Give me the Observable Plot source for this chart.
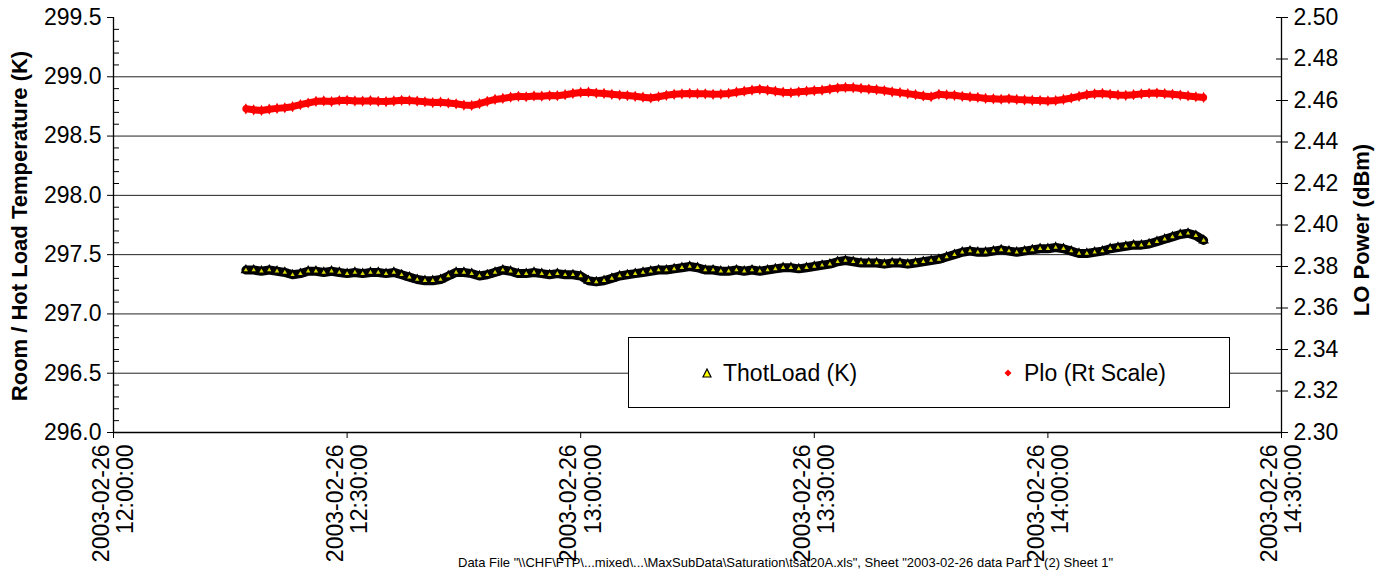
<!DOCTYPE html>
<html><head><meta charset="utf-8">
<script src="https://cdn.jsdelivr.net/npm/d3@7"></script>
<script src="https://cdn.jsdelivr.net/npm/@observablehq/plot@0.6"></script>
<style>
html,body{margin:0;padding:0;background:#fff;overflow:hidden;}
#wrap{position:relative;width:1388px;height:571px;font-family:"Liberation Sans",Arial,sans-serif;color:#000;}
.ttl{position:absolute;font-weight:bold;font-size:22px;white-space:nowrap;transform:translate(-50%,-50%) rotate(-90deg);}
#legend{position:absolute;left:628px;top:337px;width:602px;height:71px;border:1px solid #000;background:#fff;box-sizing:border-box;font-size:23px;}
.li{position:absolute;top:22px;white-space:nowrap;line-height:26px;}
.li svg{position:absolute;top:8px;}
#caption{position:absolute;left:458px;top:556px;font-size:13px;line-height:14px;white-space:nowrap;}
</style></head>
<body><div id="wrap"></div>
<script>
// ---- data (one sample per minute, starting 12:17) ----
const startTime = "2003-02-26T12:17:00Z";
const thotLoad = [297.37,297.37,297.36,297.37,297.36,297.35,297.33,297.34,297.36,297.36,
297.35,297.36,297.35,297.34,297.35,297.34,297.35,297.35,297.34,297.35,
297.33,297.31,297.29,297.28,297.28,297.29,297.32,297.35,297.35,297.34,
297.32,297.33,297.35,297.37,297.36,297.34,297.34,297.35,297.34,297.33,
297.34,297.33,297.33,297.32,297.28,297.27,297.28,297.30,297.32,297.33,
297.34,297.35,297.36,297.37,297.37,297.38,297.39,297.40,297.39,297.37,
297.37,297.36,297.36,297.37,297.36,297.37,297.36,297.37,297.38,297.39,
297.39,297.38,297.39,297.40,297.41,297.42,297.44,297.45,297.44,297.43,
297.43,297.43,297.42,297.43,297.43,297.42,297.43,297.44,297.45,297.46,
297.48,297.50,297.52,297.53,297.52,297.52,297.53,297.54,297.53,297.52,
297.53,297.54,297.55,297.55,297.56,297.55,297.53,297.51,297.51,297.52,
297.53,297.55,297.56,297.57,297.58,297.58,297.59,297.61,297.63,297.65,
297.67,297.68,297.66,297.62];
const plo = [2.4560,2.4555,2.4552,2.4558,2.4562,2.4565,2.4570,2.4580,2.4588,2.4596,
2.4598,2.4595,2.4600,2.4601,2.4598,2.4597,2.4599,2.4596,2.4595,2.4598,
2.4601,2.4600,2.4597,2.4594,2.4590,2.4592,2.4588,2.4584,2.4578,2.4576,
2.4585,2.4596,2.4605,2.4610,2.4616,2.4620,2.4618,2.4622,2.4621,2.4624,
2.4623,2.4628,2.4634,2.4639,2.4640,2.4636,2.4634,2.4630,2.4626,2.4624,
2.4620,2.4616,2.4612,2.4618,2.4625,2.4630,2.4632,2.4634,2.4633,2.4632,
2.4630,2.4631,2.4634,2.4640,2.4645,2.4650,2.4654,2.4650,2.4645,2.4640,
2.4638,2.4642,2.4645,2.4648,2.4650,2.4655,2.4660,2.4663,2.4662,2.4658,
2.4655,2.4652,2.4648,2.4642,2.4638,2.4633,2.4628,2.4622,2.4618,2.4630,
2.4627,2.4625,2.4620,2.4617,2.4615,2.4610,2.4608,2.4606,2.4608,2.4605,
2.4603,2.4601,2.4600,2.4598,2.4600,2.4605,2.4612,2.4620,2.4628,2.4632,
2.4634,2.4630,2.4627,2.4625,2.4628,2.4632,2.4635,2.4636,2.4633,2.4630,
2.4626,2.4622,2.4618,2.4615];
const xTickTimes = ["2003-02-26T12:00:00Z","2003-02-26T12:30:00Z","2003-02-26T13:00:00Z","2003-02-26T13:30:00Z","2003-02-26T14:00:00Z","2003-02-26T14:30:00Z"];
const leftTicks = [296.0,296.5,297.0,297.5,298.0,298.5,299.0,299.5];
const leftMinor = [296.1,296.2,296.3,296.4,296.6,296.7,296.8,296.9,297.1,297.2,297.3,297.4,297.6,297.7,297.8,297.9,298.1,298.2,298.3,298.4,298.6,298.7,298.8,298.9,299.1,299.2,299.3,299.4];
const rightTicks = [2.30,2.32,2.34,2.36,2.38,2.40,2.42,2.44,2.46,2.48,2.50];
const leftDomain = [296, 299.5];
const rightDomain = [2.30, 2.50];

// ---- build ----
const t0 = new Date(startTime).getTime();
const thotData = thotLoad.map((v,i)=>({t:new Date(t0+i*60000), v}));
// map right-axis values into the left scale's units
const toLeft = p => leftDomain[0] + (p-rightDomain[0])*(leftDomain[1]-leftDomain[0])/(rightDomain[1]-rightDomain[0]);
const fromLeft = y => rightDomain[0] + (y-leftDomain[0])*(rightDomain[1]-rightDomain[0])/(leftDomain[1]-leftDomain[0]);
const ploData = plo.map((v,i)=>({t:new Date(t0+i*60000), v:toLeft(v)}));
const xTicks = xTickTimes.map(s=>new Date(s));
const fmtD = d3.utcFormat("%Y-%m-%d"), fmtT = d3.utcFormat("%H:%M:%S");
const grid = leftTicks.filter(v=>v>leftDomain[0] && v<leftDomain[1]);

const plot = Plot.plot({
  width:1388, height:571,
  marginLeft:113, marginRight:107, marginTop:17, marginBottom:139,
  style:{fontFamily:"'Liberation Sans', Arial, sans-serif", fontSize:"23px", background:"#fff", color:"#000", overflow:"visible"},
  x:{type:"utc", domain:[xTicks[0], xTicks[xTicks.length-1]]},
  y:{domain:leftDomain},
  marks:[
    Plot.ruleY(grid, {stroke:"#222", strokeWidth:1}),
    Plot.ruleY([leftDomain[0]], {stroke:"#000", strokeWidth:1.3}),
    Plot.ruleX([xTicks[0], xTicks[xTicks.length-1]], {stroke:"#000", strokeWidth:1.3}),
    Plot.line(thotData, {x:"t", y:"v", stroke:"#000", strokeWidth:9}),
    Plot.dot(thotData, {x:"t", y:"v", symbol:"triangle", r:2.8, fill:"#d8d800", stroke:"#000", strokeWidth:1.8}),
    Plot.line(ploData, {x:"t", y:"v", stroke:"#ff0000", strokeWidth:7}),
    Plot.dot(ploData, {x:"t", y:"v", symbol:"diamond", r:3.4, fill:"#ff0000"}),
    Plot.axisY({ticks:leftTicks, tickFormat:d=>d.toFixed(1), tickSize:6, tickPadding:6, label:null}),
    Plot.axisY({ticks:leftMinor, tickFormat:()=>"", tickSize:-6, label:null}),
    Plot.axisY({anchor:"right", ticks:rightTicks.map(toLeft), tickFormat:d=>fromLeft(d).toFixed(2), tickSize:6, tickPadding:6, label:null}),
    Plot.axisY({anchor:"right", ticks:rightTicks.map(toLeft), tickFormat:()=>"", tickSize:-6, label:null}),
    Plot.axisX({ticks:xTicks, tickFormat:d=>fmtD(d)+"\n"+fmtT(d), tickRotate:-90, tickSize:6, tickPadding:6, label:null, lineHeight:1.05})
  ]
});
const wrap = document.getElementById("wrap");
wrap.appendChild(plot);

const add = (html) => { const d=document.createElement("div"); d.innerHTML=html; wrap.appendChild(d.firstElementChild); };
add(`<div class="ttl" style="left:20px;top:226px;">Room / Hot Load Temperature (K)</div>`);
add(`<div class="ttl" style="left:1362px;top:230px;">LO Power (dBm)</div>`);
add(`<div id="legend">
  <div class="li" style="left:73px;"><svg width="10" height="10" style="left:0"><path d="M5,1 L9,9 L1,9 Z" fill="#ffff00" stroke="#000" stroke-width="1.2"/></svg><span style="margin-left:21px">ThotLoad (K)</span></div>
  <div class="li" style="left:373px;"><svg width="8" height="8" style="left:2px;top:9px"><path d="M4,0.5 L7.5,4 L4,7.5 L0.5,4 Z" fill="#ff0000"/></svg><span style="margin-left:22px">Plo (Rt Scale)</span></div>
</div>`);
add(`<div id="caption">Data File "\\\\CHF\\FTP\\...mixed\\...\\MaxSubData\\Saturation\\tsat20A.xls", Sheet "2003-02-26 data Part 1 (2) Sheet 1"</div>`);
</script>
</body></html>
